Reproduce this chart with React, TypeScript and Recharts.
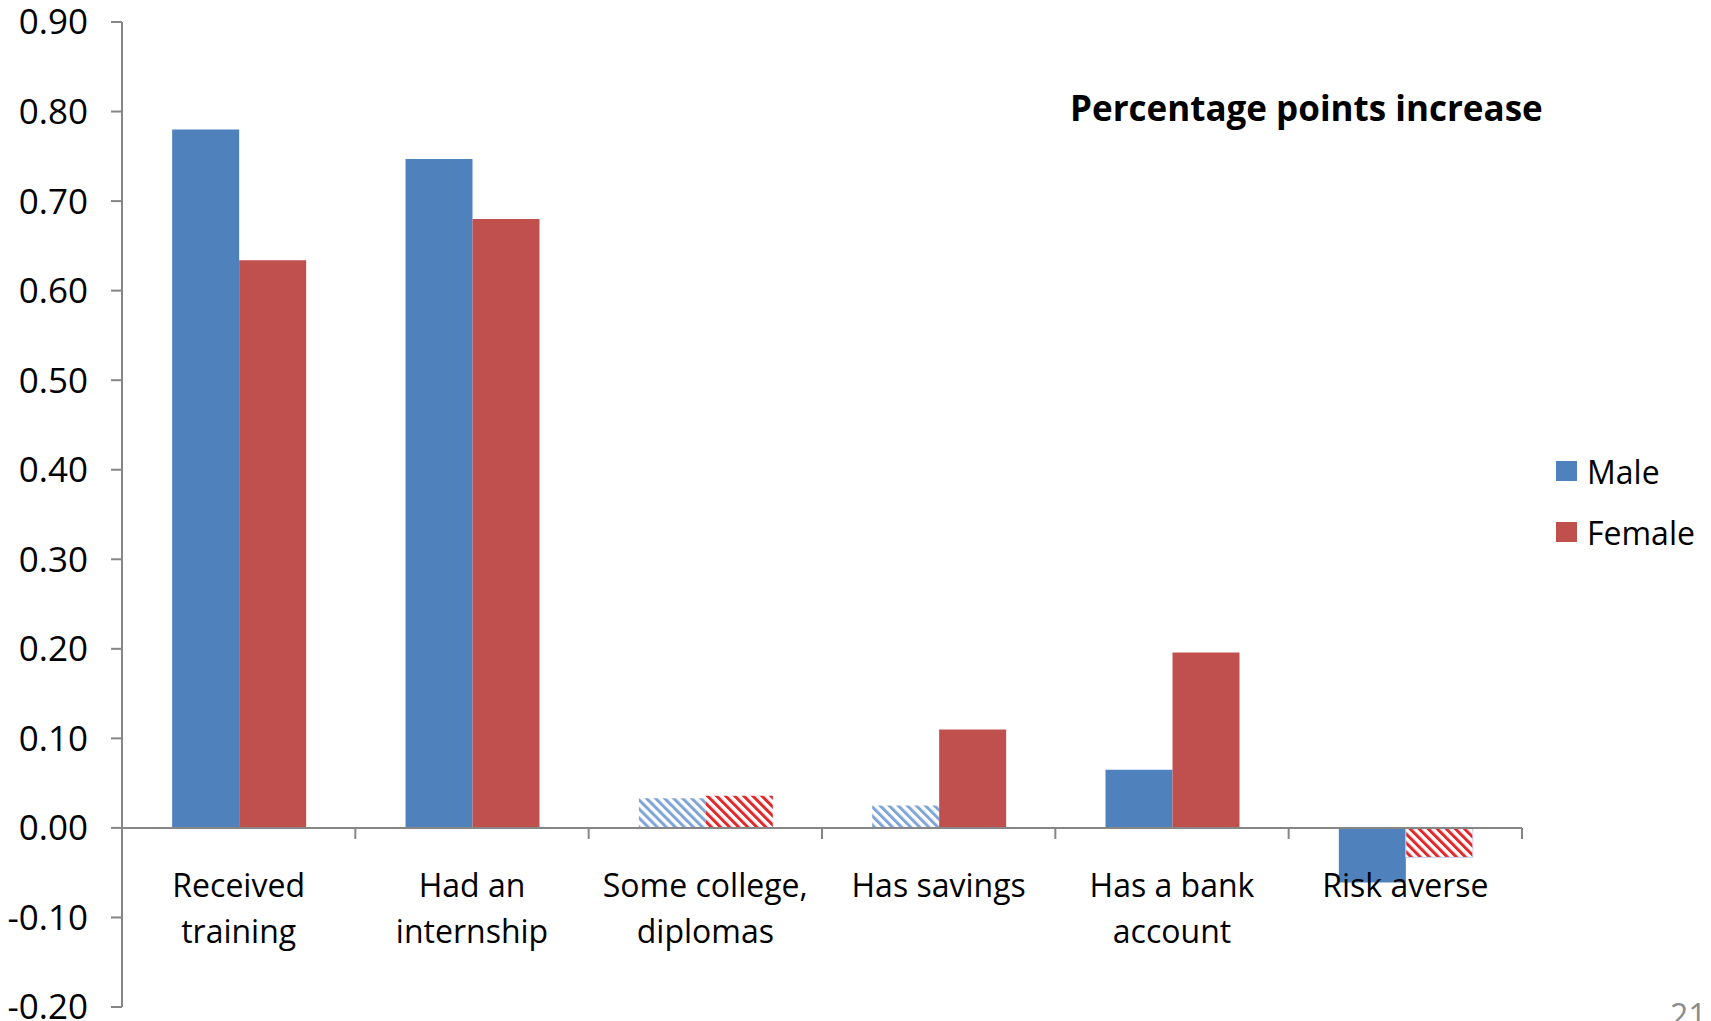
import React from 'react';
import { BarChart, Bar, XAxis, YAxis, Cell, ReferenceLine } from 'recharts';

// Category labels ("\n" marks a line break in the axis label)
const categories = [
  'Received\ntraining',
  'Had an\ninternship',
  'Some college,\ndiplomas',
  'Has savings',
  'Has a bank\naccount',
  'Risk averse',
];

// Percentage-point increase by sex
const maleValues = [0.78, 0.747, 0.033, 0.025, 0.065, -0.061];
const femaleValues = [0.634, 0.68, 0.036, 0.11, 0.196, -0.033];

// Statistically significant estimates are solid; the rest are hatched
const maleSignificant = [true, true, false, false, true, true];
const femaleSignificant = [true, true, false, true, true, false];

const seriesNames = ['Male', 'Female'];
const yTicks = [-0.2, -0.1, 0, 0.1, 0.2, 0.3, 0.4, 0.5, 0.6, 0.7, 0.8, 0.9];

const titleText = 'Percentage points increase';
const pageNumber = '21';

const data = categories.map((category, i) => ({
  category,
  male: maleValues[i],
  female: femaleValues[i],
}));

const WIDTH = 1711;
const HEIGHT = 1021;
const MARGIN = { top: 22, right: 189, bottom: 0, left: 10 };
const Y_AXIS_W = 112;
const X_AXIS_H = 14;
const Y_MIN = -0.2;
const Y_MAX = 0.9;
const PLOT_W = WIDTH - MARGIN.left - MARGIN.right - Y_AXIS_W;
const PLOT_H = HEIGHT - MARGIN.top - MARGIN.bottom - X_AXIS_H;
const BAND = PLOT_W / categories.length;
const ZERO_Y = MARGIN.top + (PLOT_H * Y_MAX) / (Y_MAX - Y_MIN);
const TICK_LEN = 11;

const MALE = '#4F81BD';
const FEMALE = '#C0504D';
const FONT = '"Open Sans", "Noto Sans", sans-serif';
const AXIS = '#868686';

// Category label plus the tick marks on the band edges (Excel-style "between" ticks)
const CategoryTick = (props: any) => {
  const { x, payload, index } = props;
  const lines = String(payload.value).split('\n');
  const left = x - BAND / 2;
  const right = x + BAND / 2;
  return (
    <g>
      <line x1={left} x2={left} y1={ZERO_Y} y2={ZERO_Y + TICK_LEN} stroke={AXIS} strokeWidth={2} />
      {index === categories.length - 1 && (
        <line x1={right} x2={right} y1={ZERO_Y} y2={ZERO_Y + TICK_LEN} stroke={AXIS} strokeWidth={2} />
      )}
      <text x={x} y={ZERO_Y + 69} textAnchor="middle" fontSize={32} fontFamily={FONT} fill="#000">
        {lines.map((line, i) => (
          <tspan key={i} x={x} dy={i === 0 ? 0 : 46}>
            {line}
          </tspan>
        ))}
      </text>
    </g>
  );
};

export default function App() {
  return (
    <div
      style={{
        position: 'absolute',
        left: 0,
        top: 0,
        width: WIDTH,
        height: HEIGHT,
        overflow: 'hidden',
        background: '#fff',
        fontFamily: FONT,
      }}
    >
      <BarChart
        width={WIDTH}
        height={HEIGHT}
        data={data}
        margin={MARGIN}
        barCategoryGap="21.5%"
        barGap={0}
      >
        <defs>
          <pattern id="hatchMale" patternUnits="userSpaceOnUse" width={6.4} height={6.4} patternTransform="rotate(-45)">
            <rect width={6.4} height={6.4} fill="#fff" />
            <rect x={0} y={0} width={3} height={6.4} fill="#7FA5D6" />
          </pattern>
          <pattern id="hatchFemale" patternUnits="userSpaceOnUse" width={6.4} height={6.4} patternTransform="rotate(-45)">
            <rect width={6.4} height={6.4} fill="#fff" />
            <rect x={0} y={0} width={3} height={6.4} fill="#E0282A" />
          </pattern>
        </defs>
        <XAxis
          dataKey="category"
          height={X_AXIS_H}
          axisLine={false}
          tickLine={false}
          interval={0}
          tick={<CategoryTick />}
        />
        <YAxis
          width={Y_AXIS_W}
          domain={[Y_MIN, Y_MAX]}
          ticks={yTicks}
          interval={0}
          allowDataOverflow
          tickFormatter={(v: number) => v.toFixed(2)}
          axisLine={{ stroke: AXIS, strokeWidth: 2 }}
          tickLine={{ stroke: AXIS, strokeWidth: 2 }}
          tickSize={TICK_LEN}
          tickMargin={23}
          tick={{ fontSize: 35, fill: '#000', fontFamily: FONT }}
        />
        <Bar dataKey="male" name={seriesNames[0]} fill={MALE} isAnimationActive={false}>
          {data.map((_, i) => (
            <Cell key={i} fill={maleSignificant[i] ? MALE : 'url(#hatchMale)'} />
          ))}
        </Bar>
        <Bar dataKey="female" name={seriesNames[1]} fill={FEMALE} isAnimationActive={false}>
          {data.map((_, i) => (
            <Cell
              key={i}
              fill={femaleSignificant[i] ? FEMALE : 'url(#hatchFemale)'}
              stroke={!femaleSignificant[i] && femaleValues[i] < 0 ? '#C9D6EC' : undefined}
              strokeWidth={1}
            />
          ))}
        </Bar>
        <ReferenceLine y={0} stroke={AXIS} strokeWidth={2} />
      </BarChart>

      <div
        style={{
          position: 'absolute',
          left: 1070,
          top: 86,
          fontSize: 35,
          fontWeight: 700,
          lineHeight: '44px',
          whiteSpace: 'nowrap',
          color: '#000',
        }}
      >
        {titleText}
      </div>

      {seriesNames.map((name, i) => (
        <div
          key={name}
          style={{
            position: 'absolute',
            left: 1556,
            top: 449 + i * 61,
            display: 'flex',
            alignItems: 'center',
            height: 44,
            fontSize: 32,
            color: '#000',
            whiteSpace: 'nowrap',
          }}
        >
          <div style={{ width: 21, height: 20, background: i === 0 ? MALE : FEMALE, marginRight: 10 }} />
          <span>{name}</span>
        </div>
      ))}

      <div
        style={{
          position: 'absolute',
          left: 1670,
          top: 993,
          fontSize: 32,
          lineHeight: '44px',
          color: '#8C8C8C',
        }}
      >
        {pageNumber}
      </div>
    </div>
  );
}
